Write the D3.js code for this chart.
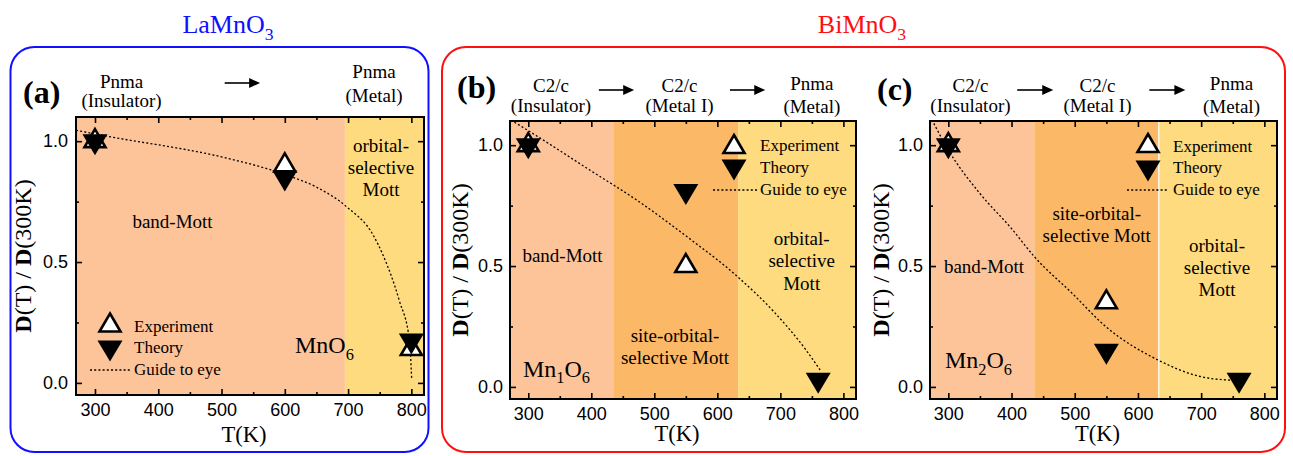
<!DOCTYPE html>
<html><head><meta charset="utf-8">
<script src="https://cdn.jsdelivr.net/npm/d3@7"></script>
<style>body{margin:0;background:#fff;} svg{display:block;}</style>
</head><body>
<svg id="chart" width="1293" height="456"></svg>
<script>
// ---------- data ----------
const xTickValues = [300, 400, 500, 600, 700, 800];
const xMinorTicks = [350, 450, 550, 650, 750];
const yTickValues = [0, 0.5, 1.0];
const yTickLabels = ["0.0", "0.5", "1.0"];
const yMinorTicks = [0.25, 0.75];

// (a) LaMnO3 / MnO6
const aExpT = [300, 600, 800];
const aExpD = [1.0, 0.90, 0.14];
const aTheoT = [300, 600, 800];
const aTheoD = [1.0, 0.85, 0.175];
const aGuideT = [270, 300, 364, 400, 500, 600, 650, 697, 740, 755, 781, 797, 800.5];
const aGuideD = [1.045, 1.03, 1.0, 0.985, 0.935, 0.862, 0.81, 0.73, 0.61, 0.53, 0.34, 0.176, 0.018];
const aBandEdges = [270, 695, 820];

// (b) BiMnO3 / Mn1O6
const bExpT = [300, 550];
const bExpD = [1.0, 0.50];
const bTheoT = [300, 550, 760];
const bTheoD = [1.0, 0.81, 0.03];
const bGuideT = [278, 300, 400, 472, 550, 632, 690, 740, 763];
const bGuideD = [1.095, 1.06, 0.893, 0.773, 0.625, 0.456, 0.31, 0.155, 0.07];

// (c) BiMnO3 / Mn2O6
const cExpT = [300, 550];
const cExpD = [1.0, 0.35];
const cTheoT = [300, 550, 760];
const cTheoD = [1.0, 0.15, 0.03];
const cGuideT = [277, 300, 350, 400, 436, 496, 549, 632, 700, 740, 755];
const cGuideD = [1.09, 0.98, 0.8, 0.655, 0.539, 0.387, 0.25, 0.111, 0.042, 0.029, 0.028];

const biBandEdges = [271, 436, 633, 820];

// ---------- styling ----------
const SERIF = "'Liberation Serif','Times New Roman',serif";
const SANS = "'Liberation Sans',Arial,sans-serif";
const C_BAND = "rgb(253,196,154)";
const C_SITE = "rgb(251,185,104)";
const C_OSM = "rgb(254,219,126)";

const svg = d3.select("#chart");

// outer boxes
svg.append("rect").attr("x", 10.5).attr("y", 47).attr("width", 418).attr("height", 405)
  .attr("rx", 24).attr("fill", "none").attr("stroke", "#1010ff").attr("stroke-width", 2);
svg.append("rect").attr("x", 442).attr("y", 47).attr("width", 843).attr("height", 405)
  .attr("rx", 24).attr("fill", "none").attr("stroke", "#ff1010").attr("stroke-width", 2);

function richText(sel, parts, size) {
  parts.forEach(p => {
    const t = sel.append("tspan").text(p.t);
    if (p.sub) t.attr("font-size", size * 0.68).attr("dy", size * 0.28);
    else if (p.after) t.attr("dy", -size * 0.28);
    if (p.bold) t.attr("font-weight", "bold");
  });
}

// titles
richText(svg.append("text").attr("x", 228).attr("y", 33).attr("text-anchor", "middle")
  .attr("font-family", SERIF).attr("font-size", 26).attr("fill", "#1010ff"),
  [{t: "LaMnO"}, {t: "3", sub: true}], 26);
richText(svg.append("text").attr("x", 862).attr("y", 33).attr("text-anchor", "middle")
  .attr("font-family", SERIF).attr("font-size", 26).attr("fill", "#ff1010"),
  [{t: "BiMnO"}, {t: "3", sub: true}], 26);

const upTri = (h, w) => `M0,${-2 * h / 3}L${w},${h / 3}L${-w},${h / 3}Z`;
const downTri = (h, w) => `M0,${2 * h / 3}L${w},${-h / 3}L${-w},${-h / 3}Z`;
const EXP_PATH = upTri(18, 10.5);
const THEO_PATH = downTri(21, 12.5);

function drawPanel(p, idx) {
  const x = d3.scaleLinear().domain(p.xDomain).range([p.left, p.left + p.width]);
  const y = d3.scaleLinear().domain([-0.05, 1.1]).range([p.top + p.height, p.top]);
  const g = svg.append("g");

  // bands
  const bands = p.bandEdges.slice(0, -1).map((e, i) => ({x0: e, x1: p.bandEdges[i + 1], c: p.bandColors[i]}));
  g.selectAll("rect.band").data(bands).join("rect").attr("class", "band")
    .attr("x", d => x(d.x0)).attr("width", d => x(d.x1) - x(d.x0))
    .attr("y", p.top).attr("height", p.height).attr("fill", d => d.c);
  if (p.whiteLine) {
    g.append("line").attr("x1", x(p.bandEdges[2])).attr("x2", x(p.bandEdges[2]))
      .attr("y1", p.top).attr("y2", p.top + p.height).attr("stroke", "#fff").attr("stroke-width", 1.2);
  }

  // axes ticks (inward)
  const fmtY = d => yTickLabels[yTickValues.indexOf(d)];
  const ax = (gen, tx, ty) => {
    const a = g.append("g").attr("transform", `translate(${tx},${ty})`).call(gen);
    a.select(".domain").remove();
    a.selectAll("line").attr("stroke", "#000").attr("stroke-width", 1.6);
    return a;
  };
  const bottom = ax(d3.axisBottom(x).tickValues(xTickValues).tickSize(-6).tickPadding(8).tickFormat(d3.format("d")), 0, p.top + p.height);
  bottom.selectAll("text").attr("font-family", SANS).attr("font-size", 18).attr("fill", "#000");
  ax(d3.axisBottom(x).tickValues(xMinorTicks).tickSize(-3).tickFormat(""), 0, p.top + p.height);
  ax(d3.axisTop(x).tickValues(xTickValues).tickSize(-6).tickFormat(""), 0, p.top);
  ax(d3.axisTop(x).tickValues(xMinorTicks).tickSize(-3).tickFormat(""), 0, p.top);
  const left = ax(d3.axisLeft(y).tickValues(yTickValues).tickSize(-6).tickPadding(p.yPad).tickFormat(fmtY), p.left, 0);
  left.selectAll("text").attr("font-family", SANS).attr("font-size", 18).attr("fill", "#000");
  ax(d3.axisLeft(y).tickValues(yMinorTicks).tickSize(-3).tickFormat(""), p.left, 0);
  ax(d3.axisRight(y).tickValues(yTickValues).tickSize(-6).tickFormat(""), p.left + p.width, 0);
  ax(d3.axisRight(y).tickValues(yMinorTicks).tickSize(-3).tickFormat(""), p.left + p.width, 0);

  // guide line
  const clipId = "clip" + idx;
  svg.append("clipPath").attr("id", clipId).append("rect")
    .attr("x", p.left).attr("y", p.top).attr("width", p.width).attr("height", p.height);
  const guide = p.guideT.map((t, i) => [t, p.guideD[i]]);
  g.append("path").datum(guide).attr("clip-path", `url(#${clipId})`)
    .attr("d", d3.line().x(d => x(d[0])).y(d => y(d[1])).curve(d3.curveMonotoneX))
    .attr("fill", "none").attr("stroke", "#000").attr("stroke-width", 1.3).attr("stroke-dasharray", "2,2.2");

  // region labels
  p.regions.forEach(r => {
    r.lines.forEach((ln, i) => {
      g.append("text").attr("x", p.left + r.dx).attr("y", p.top + r.dy + i * 22.3)
        .attr("text-anchor", "middle").attr("font-family", SERIF).attr("font-size", 19).text(ln);
    });
  });
  richText(g.append("text").attr("x", p.left + p.oct.dx).attr("y", p.top + p.oct.dy)
    .attr("font-family", SERIF).attr("font-size", 24), p.oct.parts, 24);

  // markers
  const exp = p.expT.map((t, i) => [t, p.expD[i]]);
  const theo = p.theoT.map((t, i) => [t, p.theoD[i]]);
  g.selectAll("path.exp").data(exp).join("path").attr("class", "exp")
    .attr("transform", d => `translate(${x(d[0])},${y(d[1])})`).attr("d", EXP_PATH)
    .attr("fill", "#fff").attr("stroke", "#000").attr("stroke-width", 2.6);
  g.selectAll("path.theo").data(theo).join("path").attr("class", "theo")
    .attr("transform", d => `translate(${x(d[0])},${y(d[1])})`).attr("d", THEO_PATH)
    .attr("fill", "#000");

  // frame
  g.append("rect").attr("x", p.left).attr("y", p.top).attr("width", p.width).attr("height", p.height)
    .attr("fill", "none").attr("stroke", "#000").attr("stroke-width", 2);

  // legend
  const L = p.legend;
  g.append("path").attr("transform", `translate(${p.left + L.tx},${p.top + L.upY})`).attr("d", EXP_PATH)
    .attr("fill", "#fff").attr("stroke", "#000").attr("stroke-width", 2.6);
  g.append("path").attr("transform", `translate(${p.left + L.tx},${p.top + L.downY})`).attr("d", THEO_PATH)
    .attr("fill", "#000");
  g.append("line").attr("x1", p.left + L.lx0).attr("x2", p.left + L.lx1)
    .attr("y1", p.top + L.lineY).attr("y2", p.top + L.lineY)
    .attr("stroke", "#000").attr("stroke-width", 1.3).attr("stroke-dasharray", "2,2.2");
  ["Experiment", "Theory", "Guide to eye"].forEach((s, i) => {
    g.append("text").attr("x", p.left + L.textX).attr("y", p.top + L.textY[i])
      .attr("font-family", SERIF).attr("font-size", 17).text(s);
  });

  // axis titles
  g.append("text").attr("x", p.left + p.width / 2 - 6).attr("y", p.top + p.height + p.xTitleDy)
    .attr("text-anchor", "middle").attr("font-family", SERIF).attr("font-size", 22.5).text("T(K)");
  const yt = g.append("text").attr("transform", `translate(${p.left + p.yTitleDx},${p.top + p.height / 2}) rotate(-90)`)
    .attr("text-anchor", "middle").attr("dominant-baseline", "central").attr("font-family", SERIF).attr("font-size", 24);
  richText(yt, [{t: "D", bold: true}, {t: "(T) / "}, {t: "D", bold: true}, {t: "(300K)"}], 24);

  // panel label
  g.append("text").attr("x", p.left + p.label.dx).attr("y", p.top + p.label.dy)
    .attr("font-family", SERIF).attr("font-size", 32).attr("font-weight", "bold").text(p.label.t);

  // phase labels
  p.phases.forEach(ph => {
    g.append("text").attr("x", x(ph.T)).attr("y", p.top + ph.dy1).attr("text-anchor", "middle")
      .attr("font-family", SERIF).attr("font-size", 19).text(ph.l1);
    g.append("text").attr("x", x(ph.T)).attr("y", p.top + ph.dy2).attr("text-anchor", "middle")
      .attr("font-family", SERIF).attr("font-size", 19).text(ph.l2);
  });
  p.arrows.forEach(a => {
    const x0 = x(a.T0), x1 = x(a.T1), yy = p.top + a.dy;
    g.append("line").attr("x1", x0).attr("x2", x1 - 8).attr("y1", yy).attr("y2", yy)
      .attr("stroke", "#000").attr("stroke-width", 1.6);
    g.append("path").attr("d", `M${x1},${yy}L${x1 - 11},${yy - 5}L${x1 - 11},${yy + 5}Z`).attr("fill", "#000");
  });
}

const panels = [
  {
    left: 76, top: 117, width: 348, height: 278, xDomain: [270, 820], yPad: 8,
    bandEdges: aBandEdges, bandColors: [C_BAND, C_OSM], whiteLine: false,
    expT: aExpT, expD: aExpD, theoT: aTheoT, theoD: aTheoD, guideT: aGuideT, guideD: aGuideD,
    regions: [{dx: 96.5, dy: 111, lines: ["band-Mott"]},
              {dx: 305, dy: 34.7, lines: ["orbital-", "selective", "Mott"]}],
    oct: {dx: 219, dy: 236, parts: [{t: "MnO"}, {t: "6", sub: true}]},
    legend: {tx: 34, upY: 208.5, downY: 230.5, lx0: 14, lx1: 54, lineY: 253, textX: 58, textY: [214.7, 236, 258]},
    xTitleDy: 47, yTitleDx: -53,
    label: {t: "(a)", dx: -53, dy: -14},
    phases: [{T: 342, l1: "Pnma", l2: "(Insulator)", dy1: -29, dy2: -10},
             {T: 741, l1: "Pnma", l2: "(Metal)", dy1: -39, dy2: -15}],
    arrows: [{T0: 505, T1: 561, dy: -34}]
  },
  {
    left: 510, top: 121, width: 346, height: 278, xDomain: [271, 820], yPad: 7,
    bandEdges: biBandEdges, bandColors: [C_BAND, C_SITE, C_OSM], whiteLine: false,
    expT: bExpT, expD: bExpD, theoT: bTheoT, theoD: bTheoD, guideT: bGuideT, guideD: bGuideD,
    regions: [{dx: 52.5, dy: 140.7, lines: ["band-Mott"]},
              {dx: 165, dy: 220.7, lines: ["site-orbital-", "selective Mott"]},
              {dx: 291.7, dy: 124, lines: ["orbital-", "selective", "Mott"]}],
    oct: {dx: 13, dy: 255.7, parts: [{t: "Mn"}, {t: "1", sub: true}, {t: "O", after: true}, {t: "6", sub: true}]},
    legend: {tx: 224, upY: 26, downY: 45.5, lx0: 203, lx1: 247, lineY: 69, textX: 250, textY: [29.7, 52, 74]},
    xTitleDy: 42, yTitleDx: -50,
    label: {t: "(b)", dx: -53, dy: -23},
    phases: [{T: 336, l1: "C2/c", l2: "(Insulator)", dy1: -29, dy2: -9},
             {T: 540, l1: "C2/c", l2: "(Metal I)", dy1: -29, dy2: -9},
             {T: 750, l1: "Pnma", l2: "(Metal)", dy1: -31, dy2: -8.5}],
    arrows: [{T0: 412, T1: 468, dy: -31}, {T0: 620, T1: 676, dy: -31}]
  },
  {
    left: 930, top: 121, width: 347, height: 278, xDomain: [271, 820], yPad: 7,
    bandEdges: biBandEdges, bandColors: [C_BAND, C_SITE, C_OSM], whiteLine: true,
    expT: cExpT, expD: cExpD, theoT: cTheoT, theoD: cTheoD, guideT: cGuideT, guideD: cGuideD,
    regions: [{dx: 54, dy: 152, lines: ["band-Mott"]},
              {dx: 166.7, dy: 99, lines: ["site-orbital-", "selective Mott"]},
              {dx: 287, dy: 130.7, lines: ["orbital-", "selective", "Mott"]}],
    oct: {dx: 15, dy: 247, parts: [{t: "Mn"}, {t: "2", sub: true}, {t: "O", after: true}, {t: "6", sub: true}]},
    legend: {tx: 218, upY: 25, downY: 46.5, lx0: 197, lx1: 238, lineY: 69, textX: 243, textY: [30.7, 52, 74]},
    xTitleDy: 42, yTitleDx: -49,
    label: {t: "(c)", dx: -53, dy: -21},
    phases: [{T: 335, l1: "C2/c", l2: "(Insulator)", dy1: -29, dy2: -9},
             {T: 536, l1: "C2/c", l2: "(Metal I)", dy1: -29, dy2: -9},
             {T: 748, l1: "Pnma", l2: "(Metal)", dy1: -31, dy2: -8.5}],
    arrows: [{T0: 409, T1: 466, dy: -31}, {T0: 618, T1: 675, dy: -31}]
  }
];
panels.forEach((p, i) => drawPanel(p, i));
</script>
</body></html>
